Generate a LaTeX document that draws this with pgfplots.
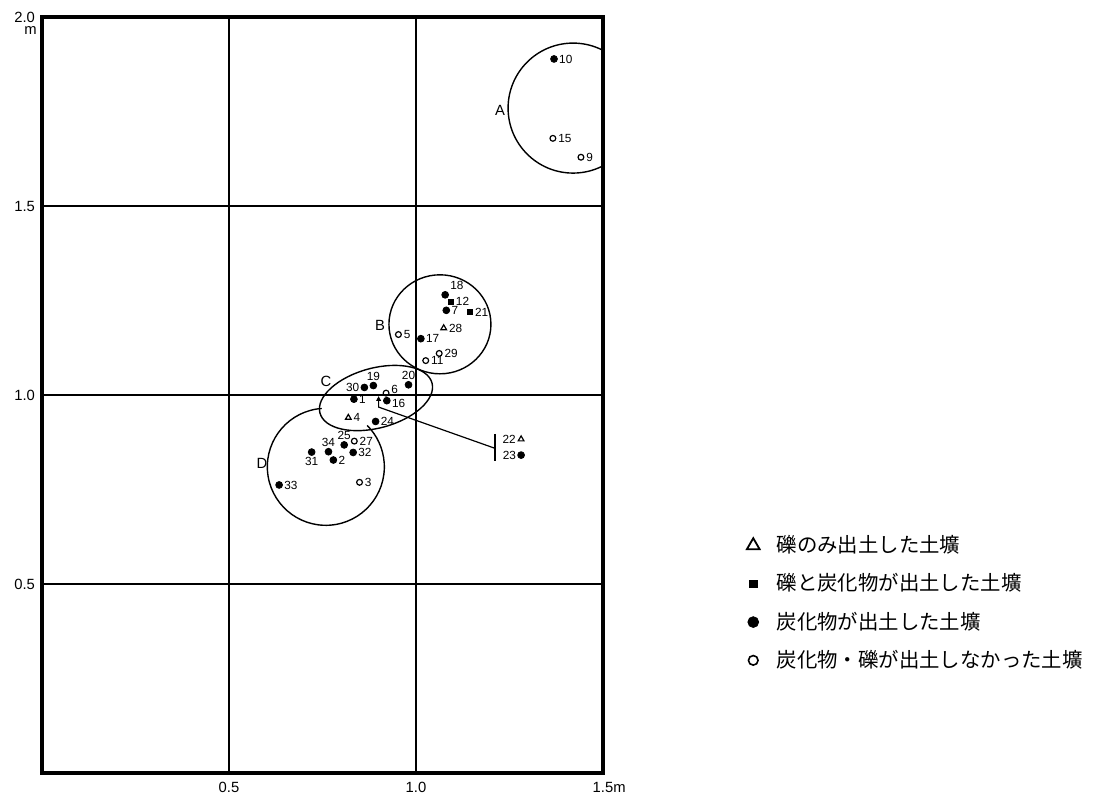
\documentclass[border=0pt]{standalone}
\usepackage{fontspec}
\setmainfont{Liberation Sans}
\newfontfamily\jp{Noto Sans CJK JP}
\usepackage{pgfplots}
\usepackage{pgfplotstable}
\pgfplotsset{compat=1.18}
\usetikzlibrary{arrows.meta}

\newcommand\labfont{\fontsize{5.9}{6}\selectfont}
\newcommand\tickfont{\fontsize{7.4}{8}\selectfont}

% pits: x, y, number; one table per symbol and side of the number
\pgfplotstableread{
x y lab
0.819 0.940 4
1.074 1.177 28
}\triW
\pgfplotstableread{
x y lab
1.281 0.883 22
}\triE
\pgfplotstableread{
x y lab
1.093 1.247 12
1.144 1.219 21
}\sqW
\pgfplotstableread{
x y lab
1.369 1.889 10
1.081 1.224 7
1.013 1.149 17
0.834 0.989 1
0.892 0.930 24
0.779 0.828 2
0.832 0.848 32
0.634 0.762 33
}\fillW
\pgfplotstableread{
x y lab
0.922 0.985 16
}\fillWlow
\pgfplotstableread{
x y lab
1.078 1.265 18
}\fillSW
\pgfplotstableread{
x y lab
0.886 1.025 19
0.980 1.027 20
0.808 0.868 25
0.766 0.850 34
}\fillS
\pgfplotstableread{
x y lab
0.721 0.849 31
}\fillN
\pgfplotstableread{
x y lab
0.862 1.020 30
1.281 0.841 23
}\fillE
\pgfplotstableread{
x y lab
1.366 1.679 15
1.441 1.629 9
0.953 1.160 5
1.062 1.110 29
1.026 1.091 11
0.835 0.878 27
0.849 0.769 3
}\openW
\pgfplotstableread{
x y lab
0.920 1.005 6
}\openWhigh

\pgfplotsset{
  pts/.style={
    only marks, black, forget plot,
    point meta=explicit symbolic,
    nodes near coords,
    every node near coord/.append style={anchor=#1, font=\labfont, inner sep=2.4pt, black},
  },
  tri/.style={mark=triangle, mark size=1.65pt, mark options={line width=0.6pt}},
  sq/.style={mark=square*, mark size=1.3pt},
  fil/.style={mark=*, mark size=1.7pt},
  opn/.style={mark=o, mark size=1.45pt, mark options={line width=0.6pt, fill=white}},
}

\begin{document}
\begin{tikzpicture}
\begin{axis}[
  name=ax,
  x=187pt, y=189pt,
  xmin=0, xmax=1.5, ymin=0, ymax=2,
  axis line style={line width=1.7pt},
  xtick={0.5,1.0,1.5},
  xticklabels={0.5,1.0,1.5\rlap{m}},
  ytick={0.5,1.0,1.5,2.0},
  yticklabels={0.5,1.0,1.5,2.0},
  major tick length=0pt,
  grid=major,
  grid style={black, line width=0.9pt},
  tick label style={font=\tickfont},
  xticklabel style={yshift=-1pt},
  legend style={draw=none, fill=none, font=\jp\fontsize{10.2}{12}\selectfont,
    at={(1.245,0.2249)}, anchor=west, row sep=5pt},
  legend cell align=left,
]
\addplot[pts=west, tri] table[x=x, y=y, meta=lab] {\triW};
\addplot[pts=east, tri] table[x=x, y=y, meta=lab] {\triE};
\addplot[pts=west, sq] table[x=x, y=y, meta=lab] {\sqW};
\addplot[pts=west, fil] table[x=x, y=y, meta=lab] {\fillW};
\addplot[pts=west, fil, every node near coord/.append style={yshift=-1.6pt}] table[x=x, y=y, meta=lab] {\fillWlow};
\addplot[pts=south west, fil] table[x=x, y=y, meta=lab] {\fillSW};
\addplot[pts=south, fil] table[x=x, y=y, meta=lab] {\fillS};
\addplot[pts=north, fil] table[x=x, y=y, meta=lab] {\fillN};
\addplot[pts=east, fil] table[x=x, y=y, meta=lab] {\fillE};
\addplot[pts=west, opn] table[x=x, y=y, meta=lab] {\openW};
\addplot[pts=west, opn, every node near coord/.append style={yshift=1.6pt}] table[x=x, y=y, meta=lab] {\openWhigh};

\addlegendimage{only marks, black, mark=triangle, mark size=3.7pt, mark options={line width=0.9pt}}
\addlegendentry{\hspace{6.5pt}礫のみ出土した土壙}
\addlegendimage{only marks, black, mark=square*, mark size=1.9pt}
\addlegendentry{\hspace{6.5pt}礫と炭化物が出土した土壙}
\addlegendimage{only marks, black, mark=*, mark size=2.7pt}
\addlegendentry{\hspace{6.5pt}炭化物が出土した土壙}
\addlegendimage{only marks, black, mark=o, mark size=2.4pt, mark options={line width=0.8pt}}
\addlegendentry{\hspace{6.5pt}炭化物・礫が出土しなかった土壙}

% groups A-D
\draw[line width=0.7pt] (axis cs:1.420,1.759) circle[radius=32.5pt];
\draw[line width=0.7pt] (axis cs:1.064,1.187) ellipse[x radius=25.5pt, y radius=24.75pt];
\draw[line width=0.7pt, rotate around={15:(axis cs:0.893,0.992)}]
  (axis cs:0.893,0.992) ellipse[x radius=29pt, y radius=15pt];
\draw[line width=0.7pt] (axis cs:0.748,0.9644) arc[start angle=94, end angle=405, radius=29.25pt];

\node[font=\tickfont] at (axis cs:1.225,1.753) {A};
\node[font=\tickfont] at (axis cs:0.904,1.183) {B};
\node[font=\tickfont] at (axis cs:0.759,1.037) {C};
\node[font=\tickfont] at (axis cs:0.588,0.820) {D};

% leader for pits 22 and 23
\draw[line width=0.6pt] (axis cs:1.211,0.897) -- (axis cs:1.211,0.826);
\draw[line width=0.6pt, -{Triangle[length=2.4pt, width=2.4pt]}]
  (axis cs:1.211,0.859) -- (axis cs:0.900,0.968) -- (axis cs:0.900,0.997);
\end{axis}
\node[anchor=north east, font=\tickfont, inner sep=0pt] at ([xshift=-2.5pt, yshift=-4.5pt]ax.north west) {m};
\pgfresetboundingbox
\path[use as bounding box] ([shift={(-21pt,-12.5pt)}]ax.south west) rectangle ([shift={(526.5pt,386.5pt)}]ax.south west);
\end{tikzpicture}
\end{document}
